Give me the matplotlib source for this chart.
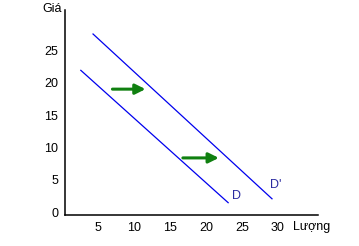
import matplotlib.pyplot as plt

plt.rcParams['font.family'] = ['Liberation Sans', 'DejaVu Sans']

# demand curves (quantity, price)
d_x = [2.6, 23.1]
d_y = [21.9, 1.5]
d2_x = [4.3, 29.2]
d2_y = [27.5, 2.1]

# shift arrows: (x_start, x_end, y)
shifts = [(7.0, 11.6, 19.0), (16.8, 21.8, 8.4)]

x_ticks = [5, 10, 15, 20, 25, 30]
y_ticks = [0, 5, 10, 15, 20, 25]

fig = plt.figure(figsize=(3.59, 2.46), dpi=100)
ax = fig.add_axes([65 / 359, 31 / 246, 253 / 359, 205 / 246])

ax.plot(d_x, d_y, color='#0000ee', lw=0.9)
ax.plot(d2_x, d2_y, color='#0000ee', lw=0.9)

for x0, x1, y in shifts:
    ax.annotate('', xy=(x1, y), xytext=(x0, y),
                arrowprops=dict(arrowstyle='-|>,head_length=0.6,head_width=0.3',
                                color='#108010', lw=2.2, shrinkA=0, shrinkB=0))

ax.text(24.2, 2.6, 'D', color='#2a2aa0', fontsize=9, ha='center', va='center')
ax.text(29.7, 4.2, "D'", color='#2a2aa0', fontsize=9, ha='center', va='center')

ax.set_xlim(0.4, 35.6)
ax.set_ylim(-0.4, 31.2)
ax.set_xticks(x_ticks)
ax.set_yticks(y_ticks)
ax.tick_params(length=0, labelsize=9, pad=5)
for s in ['top', 'right']:
    ax.spines[s].set_visible(False)
for s in ['left', 'bottom']:
    ax.spines[s].set_linewidth(1.1)

fig.text(52 / 359, 1 - 9 / 246, 'Giá', fontsize=9, ha='center', va='center')
fig.text(312 / 359, 1 - 227 / 246, 'Lượng', fontsize=9, ha='center', va='center')

fig.savefig('out.png', dpi=100)
